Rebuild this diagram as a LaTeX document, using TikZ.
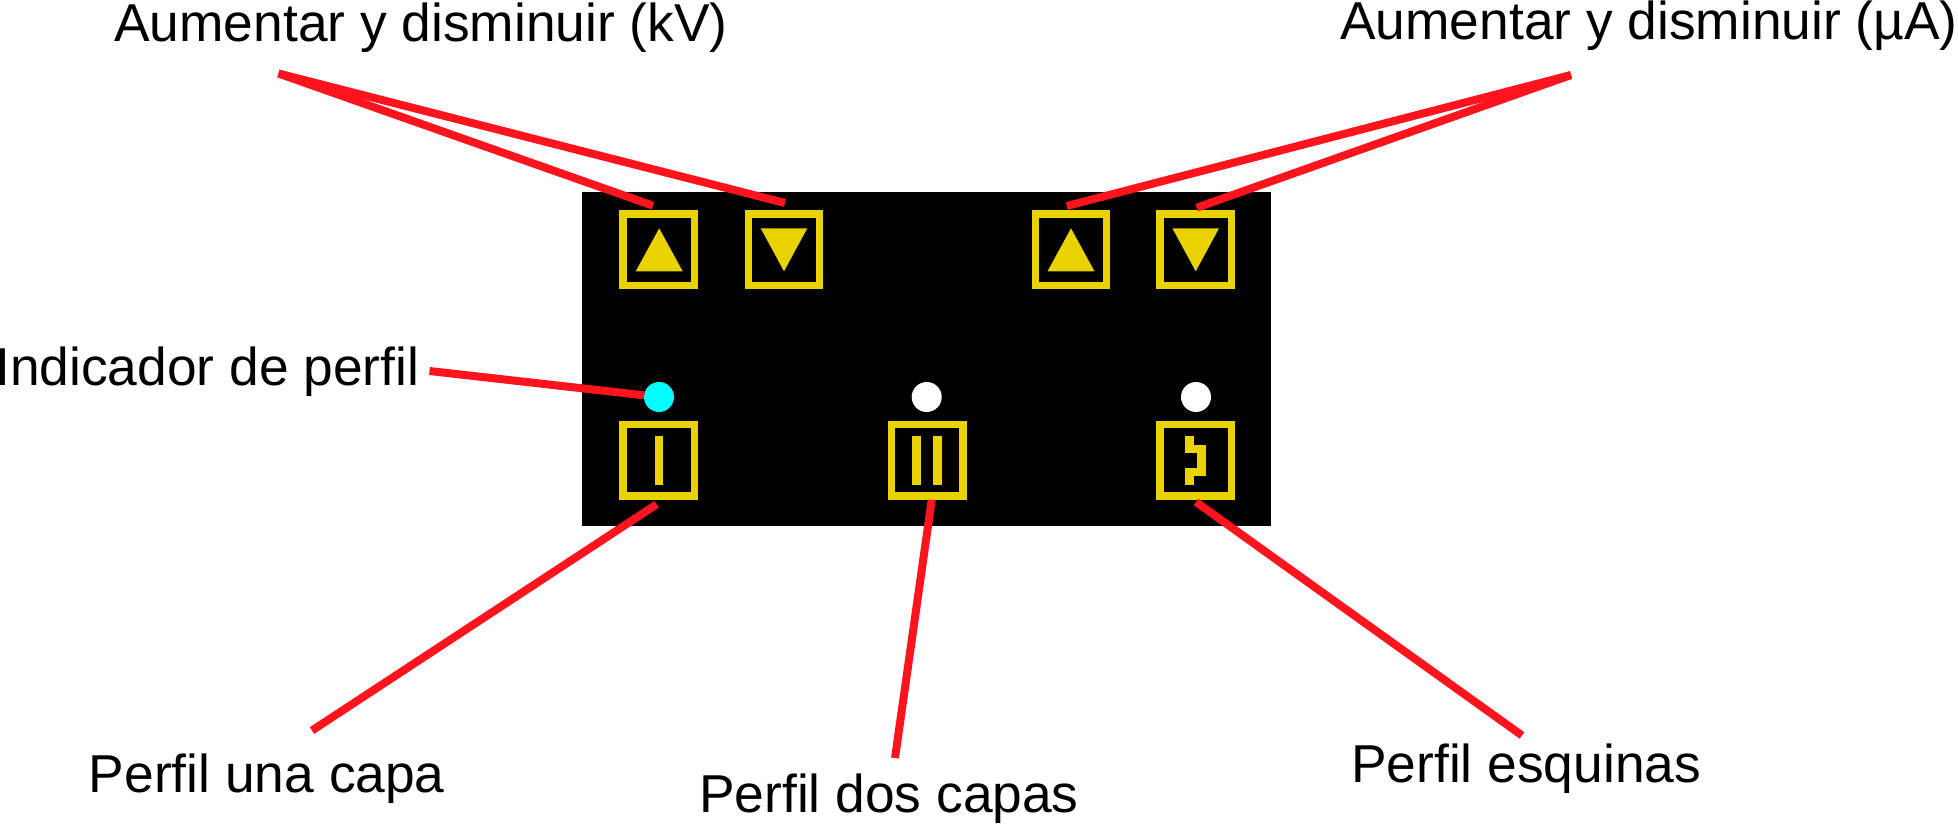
\documentclass[tikz,border=0pt]{standalone}
\usepackage{fontspec}
\setmainfont[Kerning=Off,Ligatures=NoCommon]{Liberation Sans}
\definecolor{panelyellow}{HTML}{EAD100}
\definecolor{leaderred}{HTML}{FF141E}
\definecolor{ledcyan}{RGB}{0,255,255}
\tikzset{
  btnbox/.style={draw=panelyellow,line width=5.6pt,minimum size=53.6pt,inner sep=0pt},
  led/.style={circle,minimum size=22.5pt,inner sep=0pt,outer sep=0pt},
  leader/.style={draw=leaderred,line width=6pt},
  glyph/.style={fill=panelyellow},
  glyphline/.style={draw=panelyellow,line width=6.4pt},
  lbl/.style={anchor=base west,inner sep=0pt,font=\fontsize{40}{48}\selectfont}
}

\begin{document}
\begin{tikzpicture}[x=0.75pt,y=0.75pt,yscale=-1,xscale=1]
\useasboundingbox (0,0) rectangle (1958,824);

%Shape: Panel
\fill [black] (582,192) rectangle (1271,526);

%Shape: Buttons
\node (btnkvup) [btnbox] at (658.5,249.7) {};
\node (btnkvdown) [btnbox] at (784,249.7) {};
\node (btnuaup) [btnbox] at (1071,249.7) {};
\node (btnuadown) [btnbox] at (1195.7,249.7) {};
\node (btnone) [btnbox] at (658.5,460.3) {};
\node (btntwo) [btnbox] at (927.3,460.3) {};
\node (btncorner) [btnbox] at (1195.7,460.3) {};

%Shape: Triangles
\fill [glyph] (659.2,228.3) -- (682.7,271.3) -- (635.7,271.3) -- cycle ;
\fill [glyph] (784,271.3) -- (807.3,228.3) -- (760.7,228.3) -- cycle ;
\fill [glyph] (1071,228.3) -- (1094.5,271.3) -- (1047.5,271.3) -- cycle ;
\fill [glyph] (1195.7,271.3) -- (1219,228.3) -- (1172.4,228.3) -- cycle ;

%Shape: Profile marks
\draw [glyphline] (659,435.7) -- (659,485.3) ;
\draw [glyphline] (916.7,435.7) -- (916.7,485.3) ;
\draw [glyphline] (937.3,435.7) -- (937.3,485.3) ;
\draw [glyphline] (1189.5,435.7) -- (1189.5,449) -- (1201.5,449) -- (1201.5,472) -- (1189.5,472) -- (1189.5,485.3) ;

%Shape: Indicators
\node (ledone) [led,fill=ledcyan] at (659,397) {};
\node (ledtwo) [led,fill=white] at (926.7,397) {};
\node (ledcorner) [led,fill=white] at (1196,397) {};

% Text Node
\draw (114,42) node (lblkv) [lbl] {Aumentar y disminuir (kV)};
% Text Node
\draw (1340,40) node (lblua) [lbl] {Aumentar y disminuir (µA)};
% Text Node
\draw (-5,385) node (lblled) [lbl] {Indicador de perfil};
% Text Node
\draw (88.7,792) node (lblone) [lbl] {Perfil una capa};
% Text Node
\draw (699,812) node (lbltwo) [lbl] {Perfil dos capas};
% Text Node
\draw (1351,782) node (lblcorner) [lbl] {Perfil esquinas};

% Leader ends
\coordinate (kvapex) at (278.5,73.5);
\coordinate (uaapex) at (1571,75);
\coordinate (kvupend) at (653,205.7);
\coordinate (kvdownend) at (785,203);
\coordinate (uaupend) at (1066.7,206);
\coordinate (uadownend) at (1196.7,207.7);
\coordinate (ledstart) at (429.5,371);
\coordinate (onestart) at (312,730.5);
\coordinate (oneend) at (656.7,504.3);
\coordinate (twostart) at (895,758);
\coordinate (twoend) at (931.7,500);
\coordinate (cornerstart) at (1522,735.5);
\coordinate (cornerend) at (1196,502);

%Straight Lines
\draw [leader] (kvapex) -- (kvupend) ;
\draw [leader] (kvapex) -- (kvdownend) ;
\draw [leader] (uaapex) -- (uaupend) ;
\draw [leader] (uaapex) -- (uadownend) ;
\draw [leader] (ledstart) -- (ledone) ;
\draw [leader] (onestart) -- (oneend) ;
\draw [leader] (twostart) -- (twoend) ;
\draw [leader] (cornerstart) -- (cornerend) ;

\end{tikzpicture}
\end{document}
